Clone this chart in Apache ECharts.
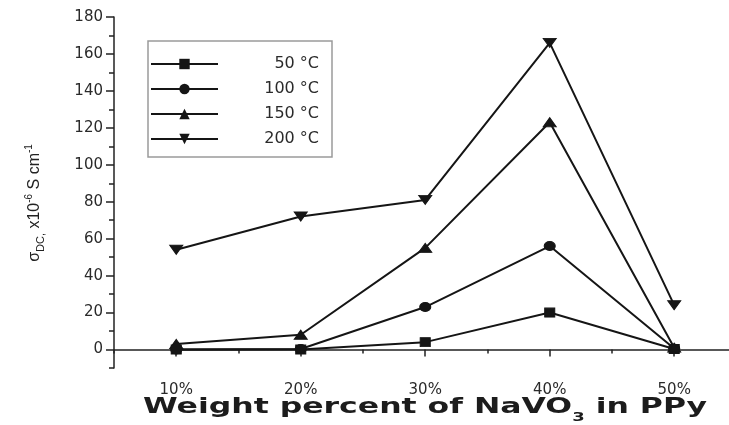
<!DOCTYPE html>
<html>
<head>
<meta charset="utf-8">
<script src="https://cdn.jsdelivr.net/npm/echarts@6/dist/echarts.min.js"></script>
<style>
html,body{margin:0;padding:0;background:#fff;}
#chart{width:729px;height:425px;}
</style>
</head>
<body>
<div id="chart"></div>
<script>
// ---- data ----
const xPercents = [10, 20, 30, 40, 50];
const seriesNames = ['50 °C', '100 °C', '150 °C', '200 °C'];
const s50  = [0, 0, 4, 20, 0.3];
const s100 = [0, 0.3, 23, 56, 0.5];
const s150 = [3, 8, 55, 123, 1];
const s200 = [54, 72, 81, 166, 24];
const xMajorTicks = [10, 20, 30, 40, 50];
const xMinorTicks = [5, 15, 25, 35, 45];
const yMajorTicks = [0, 20, 40, 60, 80, 100, 120, 140, 160, 180];
const yMinorTicks = [-10, 10, 30, 50, 70, 90, 110, 130, 150, 170];

const ink = '#151515';
const pairs = vals => xPercents.map((x, i) => [x, vals[i]]);

const symbolDefs = [
  {symbol: 'rect', size: [10, 9], rotate: 0},
  {symbol: 'circle', size: [11, 9], rotate: 0},
  {symbol: 'triangle', size: [13, 9], rotate: 0},
  {symbol: 'triangle', size: [13, 9], rotate: 180}
];
const allVals = [s50, s100, s150, s200];

const chart = echarts.init(document.getElementById('chart'));
const axisLineStyle = {color: '#222', width: 1.5};

chart.setOption({
  backgroundColor: '#fff',
  animation: false,
  grid: {left: 114, right: 0, top: 17, bottom: 57, containLabel: false},
  legend: {
    orient: 'vertical',
    left: 148, top: 41,
    padding: [15, 13, 10, 2],
    itemWidth: 67, itemHeight: 13, itemGap: 9,
    borderColor: '#9a9a9a', borderWidth: 1.5,
    data: seriesNames,
    formatter: name => '{r|' + name + '}',
    textStyle: {
      rich: {
        r: {width: 96, align: 'right', fontSize: 16, lineHeight: 14,
            fontFamily: 'DejaVu Sans', color: '#2a2a2a'}
      }
    }
  },
  xAxis: [{
    type: 'value', min: 5, max: 54.4, position: 'bottom',
    splitLine: {show: false},
    axisLine: {lineStyle: axisLineStyle},
    axisTick: {customValues: xMajorTicks, length: 7, lineStyle: {color: '#222', width: 1.5}},
    axisLabel: {customValues: xMajorTicks, formatter: v => v + '%', margin: 15,
      fontSize: 15, fontFamily: 'DejaVu Sans', color: '#2a2a2a'}
  }, {
    type: 'value', min: 5, max: 54.4, position: 'bottom',
    splitLine: {show: false},
    axisLine: {show: false},
    axisTick: {customValues: xMinorTicks, length: 4, lineStyle: {color: '#222', width: 1.5}},
    axisLabel: {show: false}
  }],
  yAxis: [{
    type: 'value', min: -10, max: 180, interval: 10, position: 'left',
    splitLine: {show: false},
    axisLine: {show: true, lineStyle: axisLineStyle},
    axisTick: {customValues: yMajorTicks, length: 8, lineStyle: {color: '#222', width: 1.5}},
    axisLabel: {customValues: yMajorTicks, margin: 11, fontSize: 15,
      fontFamily: 'DejaVu Sans', color: '#2a2a2a'},
    name: '{n|σ}{sub|DC,}{n| x10}{sup|-6}{n| S cm}{sup|-1}',
    nameLocation: 'middle', nameGap: 68, nameRotate: 90,
    nameTextStyle: {
      padding: [0, 21, 0, 0],
      rich: {
        n: {fontSize: 16, lineHeight: 22, fontFamily: 'Liberation Sans', color: '#222'},
        sub: {fontSize: 11, verticalAlign: 'bottom', fontFamily: 'Liberation Sans', color: '#222'},
        sup: {fontSize: 10, verticalAlign: 'top', fontFamily: 'Liberation Sans', color: '#222'}
      }
    }
  }, {
    type: 'value', min: -10, max: 180, interval: 10, position: 'left',
    splitLine: {show: false},
    axisLine: {show: false},
    axisTick: {customValues: yMinorTicks, length: 5, lineStyle: {color: '#222', width: 1.5}},
    axisLabel: {show: false}
  }],
  graphic: [{
    type: 'text',
    x: 425, y: 408,
    scaleX: 1.5,
    style: {
      text: '{a|Weight percent of NaVO}{s|3}{a| in PPy}',
      align: 'center', verticalAlign: 'middle',
      rich: {
        a: {fontSize: 21, fontWeight: 'bold', fontFamily: 'DejaVu Sans', lineHeight: 32, fill: '#1c1c1c'},
        s: {fontSize: 12, fontWeight: 'bold', fontFamily: 'DejaVu Sans', verticalAlign: 'bottom', fill: '#1c1c1c'}
      }
    }
  }],
  series: seriesNames.map((name, i) => ({
    name: name,
    type: 'line',
    xAxisIndex: 0, yAxisIndex: 0,
    data: pairs(allVals[i]),
    symbol: symbolDefs[i].symbol,
    symbolSize: symbolDefs[i].size,
    symbolRotate: symbolDefs[i].rotate,
    showAllSymbol: true,
    lineStyle: {color: ink, width: 2},
    itemStyle: {color: ink, borderColor: ink},
    emphasis: {disabled: true}
  }))
});
</script>
</body>
</html>
